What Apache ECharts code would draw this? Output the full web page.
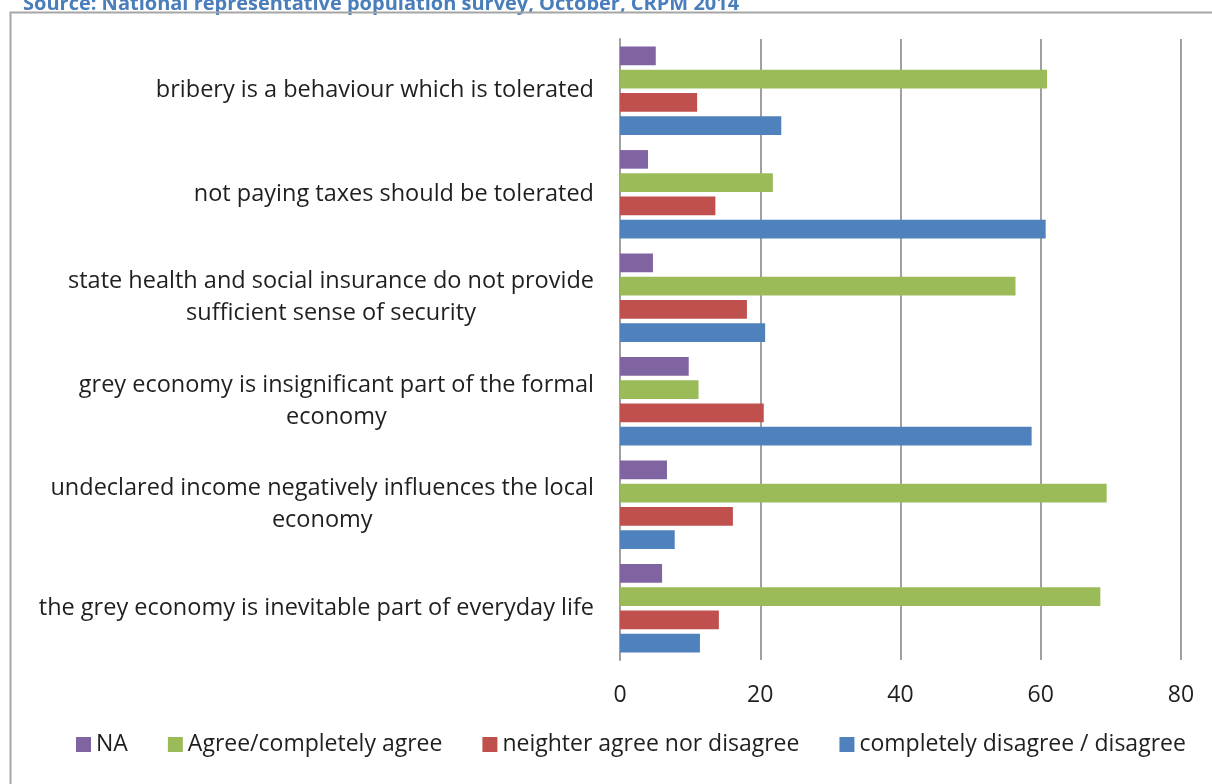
<!DOCTYPE html>
<html>
<head>
<meta charset="utf-8">
<title>Attitudes towards the grey economy</title>
<script src="https://cdn.jsdelivr.net/npm/echarts@6/dist/echarts.min.js"></script>
<style>
  html, body { margin: 0; padding: 0; background: #ffffff; }
  #chart { width: 1212px; height: 784px; }
</style>
</head>
<body>
<div id="chart"></div>
<script>
// Survey statements (top to bottom)
const categories = [
  'bribery is a behaviour which is tolerated',
  'not paying taxes should be tolerated',
  'state health and social insurance do not provide\nsufficient sense of security',
  'grey economy is insignificant part of the formal\neconomy',
  'undeclared income negatively influences the local\neconomy',
  'the grey economy is inevitable part of everyday life'
];

// Share of respondents (%) per answer
const naValues        = [5.1, 4.0, 4.7, 9.8, 6.7, 6.0];
const agreeValues     = [60.9, 21.8, 56.4, 11.2, 69.4, 68.5];
const neitherValues   = [11.0, 13.6, 18.1, 20.5, 16.1, 14.1];
const disagreeValues  = [23.0, 60.7, 20.7, 58.7, 7.8, 11.4];

const seriesNames = [
  'NA',
  'Agree/completely agree',
  'neighter agree nor disagree',
  'completely disagree / disagree'
];
const seriesColors = ['#8064a2', '#9bbb59', '#c0504d', '#4f81bd'];
const seriesValues = [naValues, agreeValues, neitherValues, disagreeValues];

const xTicks = { min: 0, max: 80, interval: 20 };

const sourceText = 'Source: National representative population survey, October, CRPM 2014';

const FONT = '"Open Sans", "Noto Sans", sans-serif';
const TEXT_COLOR = '#1f1f1f';
const chart = echarts.init(document.getElementById('chart'), null, { renderer: 'canvas' });

chart.setOption({
  backgroundColor: '#ffffff',
  animation: false,
  textStyle: { fontFamily: FONT },
  graphic: [
    {
      type: 'text',
      left: 23,
      top: -6,
      style: {
        text: sourceText,
        font: 'bold 20px ' + FONT,
        fill: '#4a7ebb'
      }
    },
    {
      type: 'polyline',
      shape: { points: [[10.5, 784], [10.5, 12.5], [1212, 12.5]] },
      style: { stroke: '#a6a6a6', lineWidth: 2, fill: null }
    }
  ],
  grid: { left: 620, right: 31, top: 39, bottom: 124, containLabel: false },
  legend: {
    left: 71,
    top: 728,
    icon: 'rect',
    itemWidth: 15,
    itemHeight: 15,
    itemGap: 40,
    textStyle: { fontSize: 23, color: TEXT_COLOR, fontFamily: FONT },
    data: seriesNames
  },
  xAxis: {
    type: 'value',
    min: xTicks.min,
    max: xTicks.max,
    interval: xTicks.interval,
    axisLine: { show: false },
    axisTick: { show: false },
    axisLabel: { fontSize: 23, color: TEXT_COLOR, margin: 24, fontFamily: FONT },
    splitLine: { show: true, lineStyle: { color: '#a0a0a0', width: 2 } }
  },
  yAxis: {
    type: 'category',
    inverse: true,
    data: categories,
    axisLine: { show: true, lineStyle: { color: '#a0a0a0', width: 2 } },
    axisTick: { show: false },
    axisLabel: {
      fontSize: 23.5,
      color: TEXT_COLOR,
      margin: 26,
      lineHeight: 32,
      fontFamily: FONT,
      formatter: function (v) {
        if (v.indexOf('\n') < 0) return v;
        return v.split('\n').map(function (s) { return '{c|' + s + '}'; }).join('\n');
      },
      rich: {
        c: { align: 'center', fontSize: 23.5, color: TEXT_COLOR, lineHeight: 32, fontFamily: FONT }
      }
    }
  },
  series: seriesNames.map(function (name, i) {
    return {
      name: name,
      type: 'bar',
      data: seriesValues[i],
      barWidth: 18.6,
      barGap: '25%',
      itemStyle: { color: seriesColors[i] }
    };
  })
});
</script>
</body>
</html>
